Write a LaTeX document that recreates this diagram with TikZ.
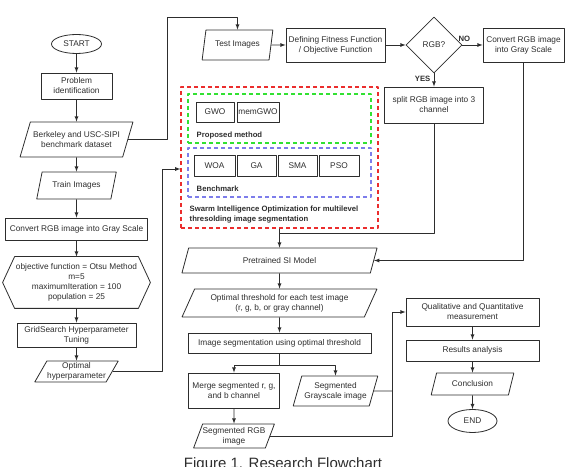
\documentclass[tikz,border=0pt]{standalone}
\usepackage{fontspec}
\setmainfont{Liberation Sans}
\usetikzlibrary{shapes.geometric}
\definecolor{inkcol}{RGB}{45,45,45}
\definecolor{redbox}{RGB}{235,45,45}
\definecolor{greenbox}{RGB}{50,225,50}
\definecolor{bluebox}{RGB}{125,125,235}
\begin{document}
\begin{tikzpicture}[>=latex,line join=bevel,color=inkcol,
  every node/.style={font=\fontsize{8.3bp}{10bp}\selectfont, align=center},
  proc/.style={draw, rectangle, inner sep=0pt},
  io/.style={draw, trapezium, trapezium stretches=true, trapezium left angle=64, trapezium right angle=116, inner sep=0pt},
  term/.style={draw, ellipse, inner sep=0pt},
  grp/.style={draw, rectangle, inner sep=0pt, line width=1.2bp, dash pattern=on 4bp off 3bp},
  tag/.style={font=\fontsize{7.7bp}{9.5bp}\selectfont\bfseries, anchor=west, align=left},
  ans/.style={font=\fontsize{7.7bp}{9.5bp}\selectfont\bfseries},
]
  \useasboundingbox (0bp,0bp) rectangle (566bp,467bp);
  \pgfsetlinewidth{0.8bp}
%%
  % Node: start
  \node[term, minimum width=50bp, minimum height=19bp] (start) at (76.5bp,423bp) {START};
  % Node: probid
  \node[proc, minimum width=71bp, minimum height=26bp] (probid) at (76.5bp,381bp) {Problem\\identification};
  % Node: dataset
  \node[io, trapezium left angle=59, trapezium right angle=121, minimum width=113bp, minimum height=35bp] (dataset) at (76.5bp,327.5bp) {Berkeley and USC-SIPI\\benchmark dataset};
  % Node: train
  \node[io, minimum width=80bp, minimum height=27bp] (train) at (76.5bp,281.5bp) {Train Images};
  % Node: graytrain
  \node[proc, minimum width=142bp, minimum height=22bp] (graytrain) at (76.5bp,238bp) {Convert RGB image into Gray Scale};
  % Node: params
  \node[inner sep=0pt, minimum width=123bp, minimum height=51bp] (params) at (76.5bp,184.5bp) {objective function = Otsu Method\\m=5\\maximumIteration = 100\\population = 25};
  \draw (params.north west) -- (params.north east) -- ([xshift=12bp]params.east) -- (params.south east) -- (params.south west) -- ([xshift=-12bp]params.west) -- cycle;
  % Node: gridsearch
  \node[proc, minimum width=119bp, minimum height=24bp] (gridsearch) at (76.5bp,132bp) {GridSearch Hyperparameter\\Tuning};
  % Node: hyperparam
  \node[io, trapezium left angle=56, trapezium right angle=124, minimum width=84bp, minimum height=21bp] (hyperparam) at (76.5bp,95.5bp) {Optimal\\hyperparameter};
  % Node: test
  \node[io, trapezium left angle=70, trapezium right angle=110, minimum width=71bp, minimum height=30bp] (test) at (237.5bp,422bp) {Test Images};
  % Node: fitness
  \node[proc, minimum width=99bp, minimum height=34bp] (fitness) at (335.5bp,422bp) {Defining Fitness Function\\/ Objective Function};
  % Node: isrgb
  \node[draw, diamond, aspect=1, inner sep=0pt, minimum width=56bp, minimum height=56bp] (isrgb) at (434bp,422bp) {RGB?};
  % Node: graytest
  \node[proc, minimum width=81bp, minimum height=34bp] (graytest) at (523.5bp,422bp) {Convert RGB image\\into Gray Scale};
  % Node: split
  \node[proc, minimum width=99bp, minimum height=36bp] (split) at (434bp,362bp) {split RGB image into 3\\channel};
  % Node: swarm, proposed, bench
  \node[grp, draw=redbox, minimum width=197bp, minimum height=141bp] (swarm) at (279.5bp,309.5bp) {};
  \node[grp, draw=greenbox, minimum width=183bp, minimum height=49bp] (proposed) at (279.5bp,348.5bp) {};
  \node[grp, draw=bluebox, minimum width=183bp, minimum height=49bp] (bench) at (279.5bp,294.5bp) {};
  \node[proc, minimum width=38bp, minimum height=20bp] (gwo) at (215bp,355bp) {GWO};
  \node[proc, minimum width=42bp, minimum height=20bp] (memgwo) at (258bp,355bp) {memGWO};
  \node[proc, minimum width=41bp, minimum height=21bp] (woa) at (214.5bp,301.5bp) {WOA};
  \node[proc, minimum width=39bp, minimum height=21bp] (ga) at (256.5bp,301.5bp) {GA};
  \node[proc, minimum width=39bp, minimum height=21bp] (sma) at (297.5bp,301.5bp) {SMA};
  \node[proc, minimum width=40bp, minimum height=21bp] (pso) at (339bp,301.5bp) {PSO};
  \node[tag] (proposedlbl) at (193bp,331bp) {Proposed method};
  \node[tag] (benchlbl) at (193bp,278bp) {Benchmark};
  \node[tag] (swarmlbl) at (186bp,252.5bp) {Swarm Intelligence Optimization for multilevel\\thresolding image segmentation};
  % Node: pretrained
  \node[io, trapezium left angle=66, trapezium right angle=114, minimum width=196bp, minimum height=25bp] (pretrained) at (279.5bp,206.5bp) {Pretrained SI Model};
  % Node: thresh
  \node[io, trapezium left angle=60, trapezium right angle=120, minimum width=195bp, minimum height=28bp] (thresh) at (279.5bp,164bp) {Optimal threshold for each test image\\(r, g, b, or gray channel)};
  % Node: segment
  \node[proc, minimum width=183bp, minimum height=20bp] (segment) at (279.5bp,124bp) {Image segmentation using optimal threshold};
  % Node: merge
  \node[proc, minimum width=91bp, minimum height=35bp] (merge) at (234bp,76.5bp) {Merge segmented r, g,\\and b channel};
  % Node: seggray
  \node[io, trapezium left angle=66, trapezium right angle=114, minimum width=85bp, minimum height=30bp] (seggray) at (335.5bp,76bp) {Segmented\\Grayscale image};
  % Node: segrgb
  \node[io, trapezium left angle=63, trapezium right angle=117, minimum width=81bp, minimum height=24bp] (segrgb) at (234bp,31bp) {Segmented RGB\\image};
  % Node: measure
  \node[proc, minimum width=133bp, minimum height=28bp] (measure) at (472.5bp,155bp) {Qualitative and Quantitative\\measurement};
  % Node: analysis
  \node[proc, minimum width=133bp, minimum height=21bp] (analysis) at (472.5bp,116.5bp) {Results analysis};
  % Node: conclusion
  \node[io, trapezium left angle=63, trapezium right angle=117, minimum width=83bp, minimum height=22bp] (conclusion) at (472.5bp,83bp) {Conclusion};
  % Node: end
  \node[term, minimum width=49bp, minimum height=23bp] (end) at (472.5bp,46bp) {END};
  % Node: caption
  \node[font=\fontsize{15bp}{18bp}\selectfont, anchor=base] (caption) at (283bp,-1bp) {Figure 1. Research Flowchart};
%
  \coordinate (toTest) at (167bp,450bp);
  \coordinate (toSwarm) at (162bp,298bp);
  \coordinate (joinSplit) at (279.5bp,234bp);
  \coordinate (forkSeg) at (279.5bp,102bp);
  \coordinate (toMeasure) at (392bp,155bp);
  % Edge: start -> probid -> dataset -> train -> graytrain -> params -> gridsearch -> hyperparam
  \draw [->] (start) -- (probid);
  \draw [->] (probid) -- (dataset);
  \draw [->] (dataset) -- (train);
  \draw [->] (train) -- (graytrain);
  \draw [->] (graytrain) -- (params);
  \draw [->] (params) -- (gridsearch);
  \draw [->] (gridsearch) -- (hyperparam);
  % Edge: dataset -> test
  \draw [->] (dataset) -| (toTest) -| (test);
  % Edge: hyperparam -> swarm
  \draw [->] (hyperparam) -| (toSwarm) -- (toSwarm -| swarm.west);
  % Edge: test -> fitness -> isrgb
  \draw [->] (test) -- (fitness);
  \draw [->] (fitness) -- (isrgb);
  % Edge: isrgb -> graytest, isrgb -> split
  \draw [->] (isrgb) -- node[ans, above, pos=0.1] {NO} (graytest);
  \draw [->] (isrgb) -- node[ans, left, pos=0.4] {YES} (split);
  % Edge: split -> pretrained, swarm -> pretrained, graytest -> pretrained
  \draw (split) |- (joinSplit);
  \draw [->] (swarm) -- (pretrained);
  \draw [->] (graytest) |- (pretrained);
  % Edge: pretrained -> thresh -> segment
  \draw [->] (pretrained) -- (thresh);
  \draw [->] (thresh) -- (segment);
  % Edge: segment -> merge, segment -> seggray
  \draw [->] (segment) -- (forkSeg) -| (merge);
  \draw [->] (forkSeg) -| (seggray);
  \draw [->] (merge) -- (segrgb);
  % Edge: segrgb -> measure, seggray -> measure
  \draw [->] (segrgb) -| (toMeasure) -- (measure);
  \draw (seggray) -- (seggray -| toMeasure);
  % Edge: measure -> analysis -> conclusion -> end
  \draw [->] (measure) -- (analysis);
  \draw [->] (analysis) -- (conclusion);
  \draw [->] (conclusion) -- (end);
%
\end{tikzpicture}
\end{document}
